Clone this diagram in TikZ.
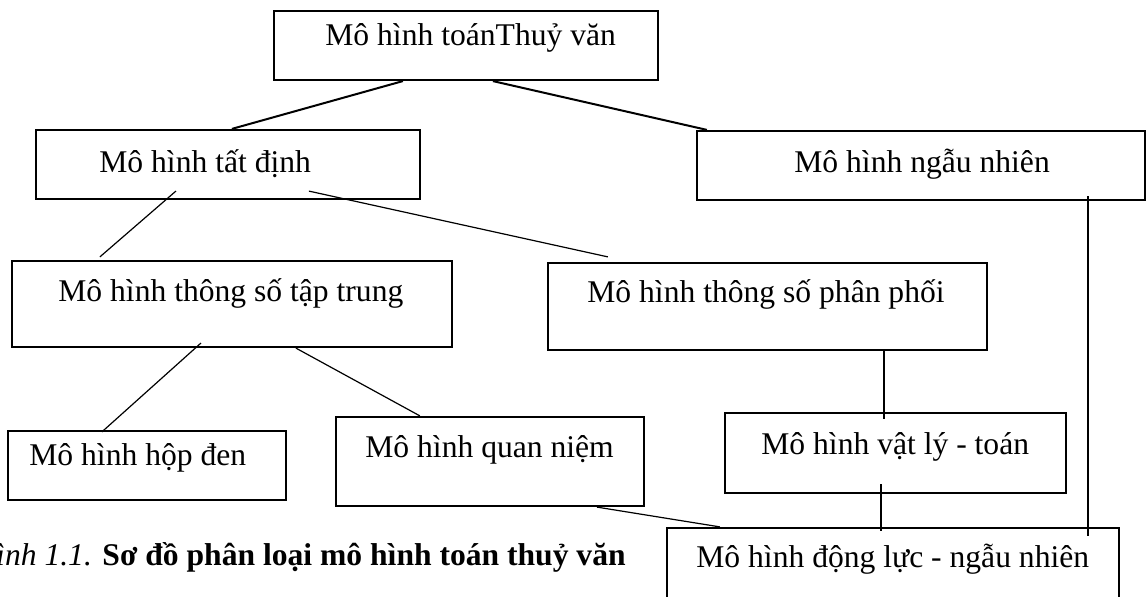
\documentclass[tikz,border=0pt]{standalone}
\usepackage{fontspec}
\setmainfont{Liberation Serif}
\usetikzlibrary{fit,calc,positioning}

\begin{document}
\begin{tikzpicture}[x=0.5pt,y=-0.5pt]
\tikzstyle{khung} = [draw, rectangle, line width=1.1pt, inner sep=0pt]
\tikzset{chu/.style={anchor=base west, inner sep=0pt, font=\fontsize{15.8}{19}\selectfont}} % text sits near the top of each box
\tikzset{noi/.style={line width=0.6pt}, noiday/.style={line width=1pt}}
\useasboundingbox (0,0) rectangle (1147,597);
\clip (0,0) rectangle (1147,597);

% boxes
\node[khung, fit={(274,11) (658,80)}] (goc) {};
\node[khung, fit={(36,130) (420,199)}] (td) {};
\node[khung, fit={(697,131) (1145,200)}] (nn) {};
\node[khung, fit={(12,261) (452,347)}] (tt) {};
\node[khung, fit={(548,263) (987,350)}] (pp) {};
\node[khung, fit={(8,431) (286,500)}] (hd) {};
\node[khung, fit={(336,417) (644,506)}] (qn) {};
\node[khung, fit={(725,413) (1066,493)}] (vl) {};
\node[khung, fit={(667,528) (1119,620)}] (dl) {};

% labels
\node[chu] (goc-chu) at (325,46) {Mô hình toánThuỷ văn};
\node[chu] (td-chu) at (99,173) {Mô hình tất định};
\node[chu] (nn-chu) at (794,173) {Mô hình ngẫu nhiên};
\node[chu] (tt-chu) at (58,302) {Mô hình thông số tập trung};
\node[chu] (pp-chu) at (587,303) {Mô hình thông số phân phối};
\node[chu] (hd-chu) at (29,466) {Mô hình hộp đen};
\node[chu] (qn-chu) at (365,458) {Mô hình quan niệm};
\node[chu] (vl-chu) at (761,455) {Mô hình vật lý - toán};
\node[chu] (dl-chu) at (696,568) {Mô hình động lực - ngẫu nhiên};

% caption
\node[chu] (tieude) at (-27,566) {\textit{Hình 1.1.} \textbf{Sơ đồ phân loại mô hình toán thuỷ văn}};

% links
\draw[noiday] ($(goc.south west)+(130,0)$) -- ($(td.north west)+(197,0)$);
\draw[noiday] ($(goc.south west)+(220,0)$) -- ($(nn.north west)+(11,0)$);
\draw[noi] ($(td.south west)+(141,-9)$) -- ($(tt.north west)+(89,-3)$);
\draw[noi] ($(td.south west)+(274,-9)$) -- ($(pp.north west)+(61,-5)$);
\draw[noi] ($(tt.south west)+(190,-5)$) -- ($(hd.north west)+(95,2)$);
\draw[noi] ($(tt.south west)+(285,0)$) -- ($(qn.north west)+(85,0)$);
\draw[noi] ($(pp.south west)+(337,0)$) -- ($(vl.north west)+(160,7)$);
\draw[noi] ($(vl.south west)+(157,-10)$) -- ($(dl.north west)+(215,4)$);
\draw[noi] ($(qn.south west)+(262,0)$) -- ($(dl.north west)+(54,0)$);
\draw[noi] ($(nn.south west)+(392,-5)$) -- ($(dl.north west)+(422,9)$);
\end{tikzpicture}
\end{document}
